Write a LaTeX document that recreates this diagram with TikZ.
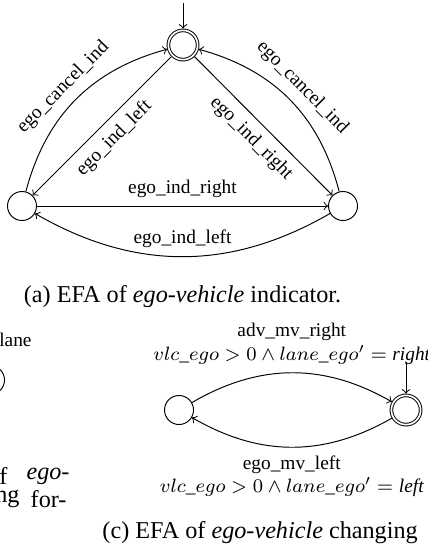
\documentclass[tikz,border=0pt]{standalone}
\usepackage[no-math]{fontspec}
\setmainfont{Liberation Serif}
\begin{document}
\begin{tikzpicture}[x=0.4134pt,y=0.4134pt, line width=0.4pt,
  stt/.style={circle,draw,minimum size=12pt,inner sep=0pt},
  accst/.style={stt,double,double distance=0.7pt,outer sep=0.75pt,minimum size=12.1pt},
  lbl/.style={font=\fontsize{8}{9.6}\selectfont},
  capt/.style={font=\fontsize{10}{12}\selectfont},
  arr/.style={->}]
\useasboundingbox (0,0) rectangle (427,-554);
% (a)
\node[accst] (T) at (183,-45) {};
\node[stt] (L) at (22,-206) {};
\node[stt] (R) at (343,-206) {};
\coordinate (Tin) at (183,-3);
\draw[arr] (Tin) -- (T);
\draw[arr] (T) -- node[lbl,sloped,below,midway]{ego\_ind\_left} (L);
\draw[arr] (T) -- node[lbl,sloped,below,midway]{ego\_ind\_right} (R);
\draw[arr] (L) to[bend left=30] node[lbl,sloped,above]{ego\_cancel\_ind} (T);
\draw[arr] (R) to[bend right=30] node[lbl,sloped,above]{ego\_cancel\_ind} (T);
\draw[arr] (L) -- node[lbl,above]{ego\_ind\_right} (R);
\draw[arr] (R) to[bend left=30] node[lbl,above]{ego\_ind\_left} (L);
\node[capt] (capa) at (182.5,-297) {(a) EFA of \textit{ego-vehicle} indicator.};
% (b) remnants
\node[lbl,anchor=east,inner sep=0pt] (blane) at (32,-340) {lane};
\node[stt] (B) at (-10,-380) {};
\node[capt,anchor=east,inner sep=0pt] (bf) at (8,-476) {f};
\node[capt,anchor=east,inner sep=0pt] (bego) at (70,-476) {\textit{ego-}};
\node[capt,anchor=east,inner sep=0pt] (bng) at (20,-499) {ng};
\node[capt,anchor=east,inner sep=0pt] (bfor) at (67,-499) {for-};
% (c)
\node[stt] (C1) at (179,-410) {};
\node[accst] (C2) at (406,-410) {};
\coordinate (Cin) at (406,-362);
\draw[arr] (Cin) -- (C2);
\draw[arr] (C1) to[bend left=30] node[lbl,above,align=center]{adv\_mv\_right\\$vlc\_ego > 0 \wedge lane\_ego' = \textit{right}$} (C2);
\draw[arr] (C2) to[bend left=30] node[lbl,below,align=center]{ego\_mv\_left\\$vlc\_ego > 0 \wedge lane\_ego' = \textit{left}$} (C1);
\node[capt,anchor=west,inner sep=0pt] (capc) at (102,-533) {(c) EFA of \textit{ego-vehicle} changing};
\end{tikzpicture}
\end{document}
